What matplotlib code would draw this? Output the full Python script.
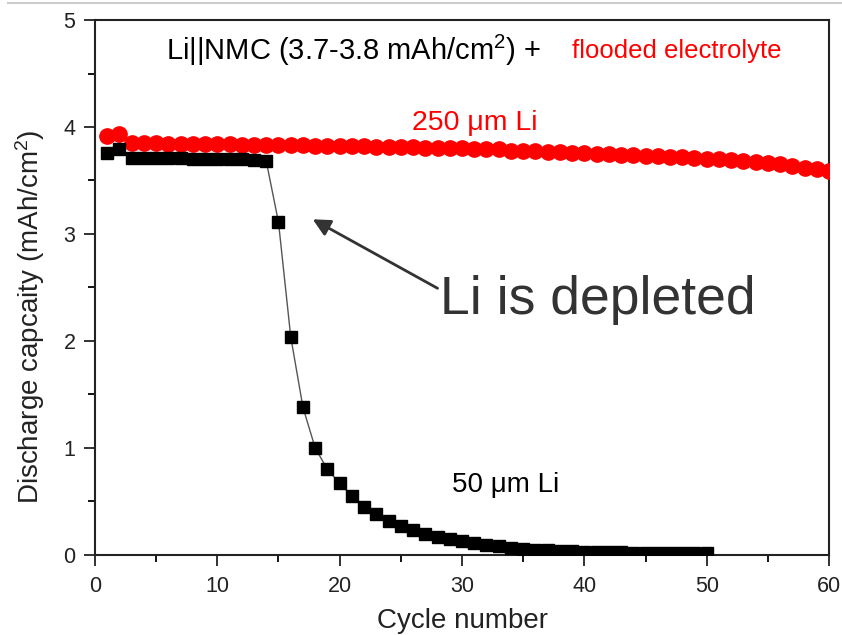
import numpy as np
import matplotlib
matplotlib.use("Agg")
import matplotlib.pyplot as plt
from matplotlib.ticker import MultipleLocator

plt.rcParams['font.family'] = ['Liberation Sans', 'DejaVu Sans']
plt.rcParams['mathtext.default'] = 'regular'

# 250 um Li cell, cycles 1-60
cycles_thick = list(range(1, 61))
cap_thick = [3.92, 3.93, 3.85, 3.85, 3.85, 3.84, 3.84, 3.84, 3.84, 3.84,
             3.84, 3.83, 3.83, 3.83, 3.83, 3.83, 3.83, 3.82, 3.82, 3.82,
             3.82, 3.82, 3.81, 3.81, 3.81, 3.81, 3.80, 3.80, 3.80, 3.80,
             3.79, 3.79, 3.79, 3.78, 3.78, 3.78, 3.77, 3.77, 3.76, 3.76,
             3.75, 3.75, 3.74, 3.74, 3.73, 3.73, 3.72, 3.72, 3.71, 3.70,
             3.70, 3.69, 3.68, 3.67, 3.66, 3.65, 3.64, 3.62, 3.61, 3.59]

# 50 um Li cell, cycles 1-50
cycles_thin = list(range(1, 51))
cap_thin = [3.76, 3.79, 3.71, 3.71, 3.71, 3.71, 3.71, 3.70, 3.70, 3.70,
            3.70, 3.70, 3.69, 3.68, 3.11, 2.04, 1.38, 1.00, 0.80, 0.67,
            0.55, 0.45, 0.38, 0.32, 0.27, 0.23, 0.20, 0.17, 0.15, 0.13,
            0.11, 0.095, 0.08, 0.07, 0.06, 0.05, 0.045, 0.04, 0.035, 0.03,
            0.03, 0.025, 0.025, 0.02, 0.02, 0.02, 0.02, 0.02, 0.02, 0.02]

fig = plt.figure(figsize=(8.42, 6.35), dpi=100)
ax = fig.add_axes([0.1128, 0.126, 0.8718, 0.8425])

ax.plot(cycles_thick, cap_thick, color='red', marker='o', markersize=11,
        linestyle='-', linewidth=1, zorder=3)
ax.plot(cycles_thin, cap_thin, color='#555555', linewidth=1, zorder=2)
ax.plot(cycles_thin, cap_thin, color='black', marker='s', markersize=8,
        linestyle='none', zorder=4)

ax.set_xlim(0, 60)
ax.set_ylim(0, 5)
ax.xaxis.set_major_locator(MultipleLocator(10))
ax.xaxis.set_minor_locator(MultipleLocator(5))
ax.yaxis.set_major_locator(MultipleLocator(1))
ax.yaxis.set_minor_locator(MultipleLocator(0.5))
ax.tick_params(which='major', direction='out', length=8, width=1.3,
               labelsize=15.5, colors='#222222')
ax.tick_params(axis='x', which='major', pad=7)
ax.tick_params(axis='y', which='major', pad=6)
ax.tick_params(which='minor', direction='out', length=5, width=1.3)
for s in ax.spines.values():
    s.set_linewidth(1.5)
    s.set_color('#222222')

ax.set_xlabel('Cycle number', fontsize=20, color='#222222')
ax.xaxis.set_label_coords(0.5, -0.1)
ax.set_ylabel('Discharge capcaity (mAh/cm$^2$)', fontsize=20,
              color='#222222')
ax.yaxis.set_label_coords(-0.066, 0.445)

ax.text(5.8, 4.72, 'Li||NMC (3.7-3.8 mAh/cm$^2$) +', fontsize=21,
        color='black', va='center', ha='left')
ax.text(39.0, 4.71, 'flooded electrolyte', fontsize=18.5, color='red',
        va='center', ha='left')
ax.text(25.9, 4.04, '250 \u03bcm Li', fontsize=20.5, color='red',
        va='center', ha='left')
ax.text(29.2, 0.65, '50 \u03bcm Li', fontsize=20, color='black',
        va='center', ha='left')
ax.text(28.2, 2.38, 'Li is depleted', fontsize=38.5, color='#333333',
        va='center', ha='left')
ax.annotate('', xy=(17.6, 3.15), xytext=(28.2, 2.48),
            arrowprops=dict(arrowstyle='-|>', color='#333333', lw=2,
                            mutation_scale=26))

fig.add_artist(plt.Line2D([0.01, 1.0], [0.996, 0.996], color='#cccccc',
                          linewidth=1.5))

plt.savefig('out.png', dpi=100)
